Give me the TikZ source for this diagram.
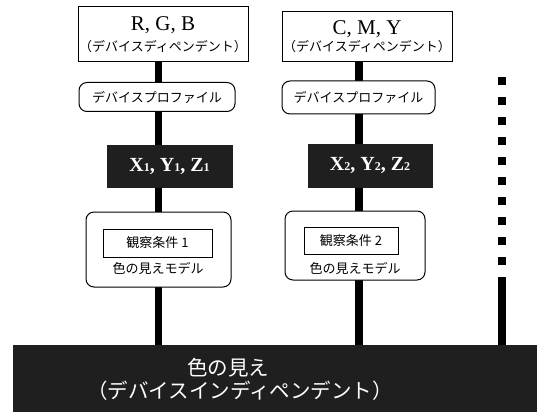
\documentclass[tikz,border=0pt]{standalone}
\usepackage{fontspec}
\setmainfont{Liberation Serif}
\newfontfamily\jp{Noto Sans CJK JP}
\usetikzlibrary{backgrounds}
\begin{document}
\begin{tikzpicture}[x=1pt,y=-1pt,
  plainbox/.style={draw=black,line width=1pt,fill=white,inner sep=0pt,align=center},
  roundbox/.style={plainbox,rounded corners=8pt},
  darkbox/.style={fill=black!88,draw=black!88,inner sep=0pt,text=white,font=\fontsize{20}{22}\selectfont\bfseries},
  bar/.style={line width=7.5pt,draw=black},
  jptext/.style={font=\jp\fontsize{13}{15}\selectfont},
  bigjp/.style={text=white,font=\jp\fontsize{20.5}{24}\selectfont}
]
\useasboundingbox (0,0) rectangle (537,414);
\newcommand{\sbx}[1]{{\fontsize{12}{12}\selectfont #1}}
% bottom bar
\node[darkbox,minimum width=524pt,minimum height=66pt,anchor=north west] (bottom) at (13,345) {};
\node[bigjp] (bt1) at (228,368) {色の見え};
\node[bigjp] (bt2) at (240,391) {（デバイスインディペンデント）};
% left column
\node[plainbox,minimum width=170pt,minimum height=55pt] (rgb) at (163,34.5) {};
\node[font=\fontsize{21}{22}\selectfont] (rgbt) at (163,25) {R, G, B};
\node[jptext] (rgbp) at (163,47) {（デバイスディペンデント）};
\node[roundbox,minimum width=156pt,minimum height=29pt,jptext] (dp1) at (157,97) {デバイスプロファイル};
\node[darkbox,minimum width=125pt,minimum height=42pt] (xyz1) at (169.5,166) {X\sbx{1}, Y\sbx{1}, Z\sbx{1}};
\node[roundbox,minimum width=145pt,minimum height=75pt] (obs1) at (158.5,249.5) {};
\node[plainbox,minimum width=109pt,minimum height=28pt,jptext] (in1) at (157.5,243) {観察条件 1};
\node[jptext] (m1) at (158,268) {色の見えモデル};
% right column
\node[plainbox,minimum width=170pt,minimum height=50pt] (cmy) at (367,37) {};
\node[font=\fontsize{21}{22}\selectfont] (cmyt) at (367,29) {C, M, Y};
\node[jptext] (cmyp) at (367,47) {（デバイスディペンデント）};
\node[roundbox,minimum width=153pt,minimum height=33pt,jptext] (dp2) at (358.5,97.5) {デバイスプロファイル};
\node[darkbox,minimum width=124pt,minimum height=43pt] (xyz2) at (370,165.5) {X\sbx{2}, Y\sbx{2}, Z\sbx{2}};
\node[roundbox,minimum width=140pt,minimum height=69pt] (obs2) at (355,245.5) {};
\node[plainbox,minimum width=94pt,minimum height=27pt,jptext] (in2) at (351,240.5) {観察条件 2};
\node[jptext] (m2) at (355,268) {色の見えモデル};
% bars
\coordinate (b1) at (158.5,0);
\coordinate (b2) at (359,0);
\coordinate (d1) at (502,77);
\coordinate (d2) at (502,277);
\begin{scope}[on background layer]
\fill[white] (0,0) rectangle (537,414);
\draw[bar] (rgb.south -| b1) -- (bottom.north -| b1);
\draw[bar] (cmy.south -| b2) -- (bottom.north -| b2);
\end{scope}
\draw[bar,line width=8pt,dash pattern=on 8pt off 12pt] (d1) -- (d2);
\draw[bar,line width=8pt] (d2) -- (bottom.north -| d2);
\end{tikzpicture}
\end{document}
